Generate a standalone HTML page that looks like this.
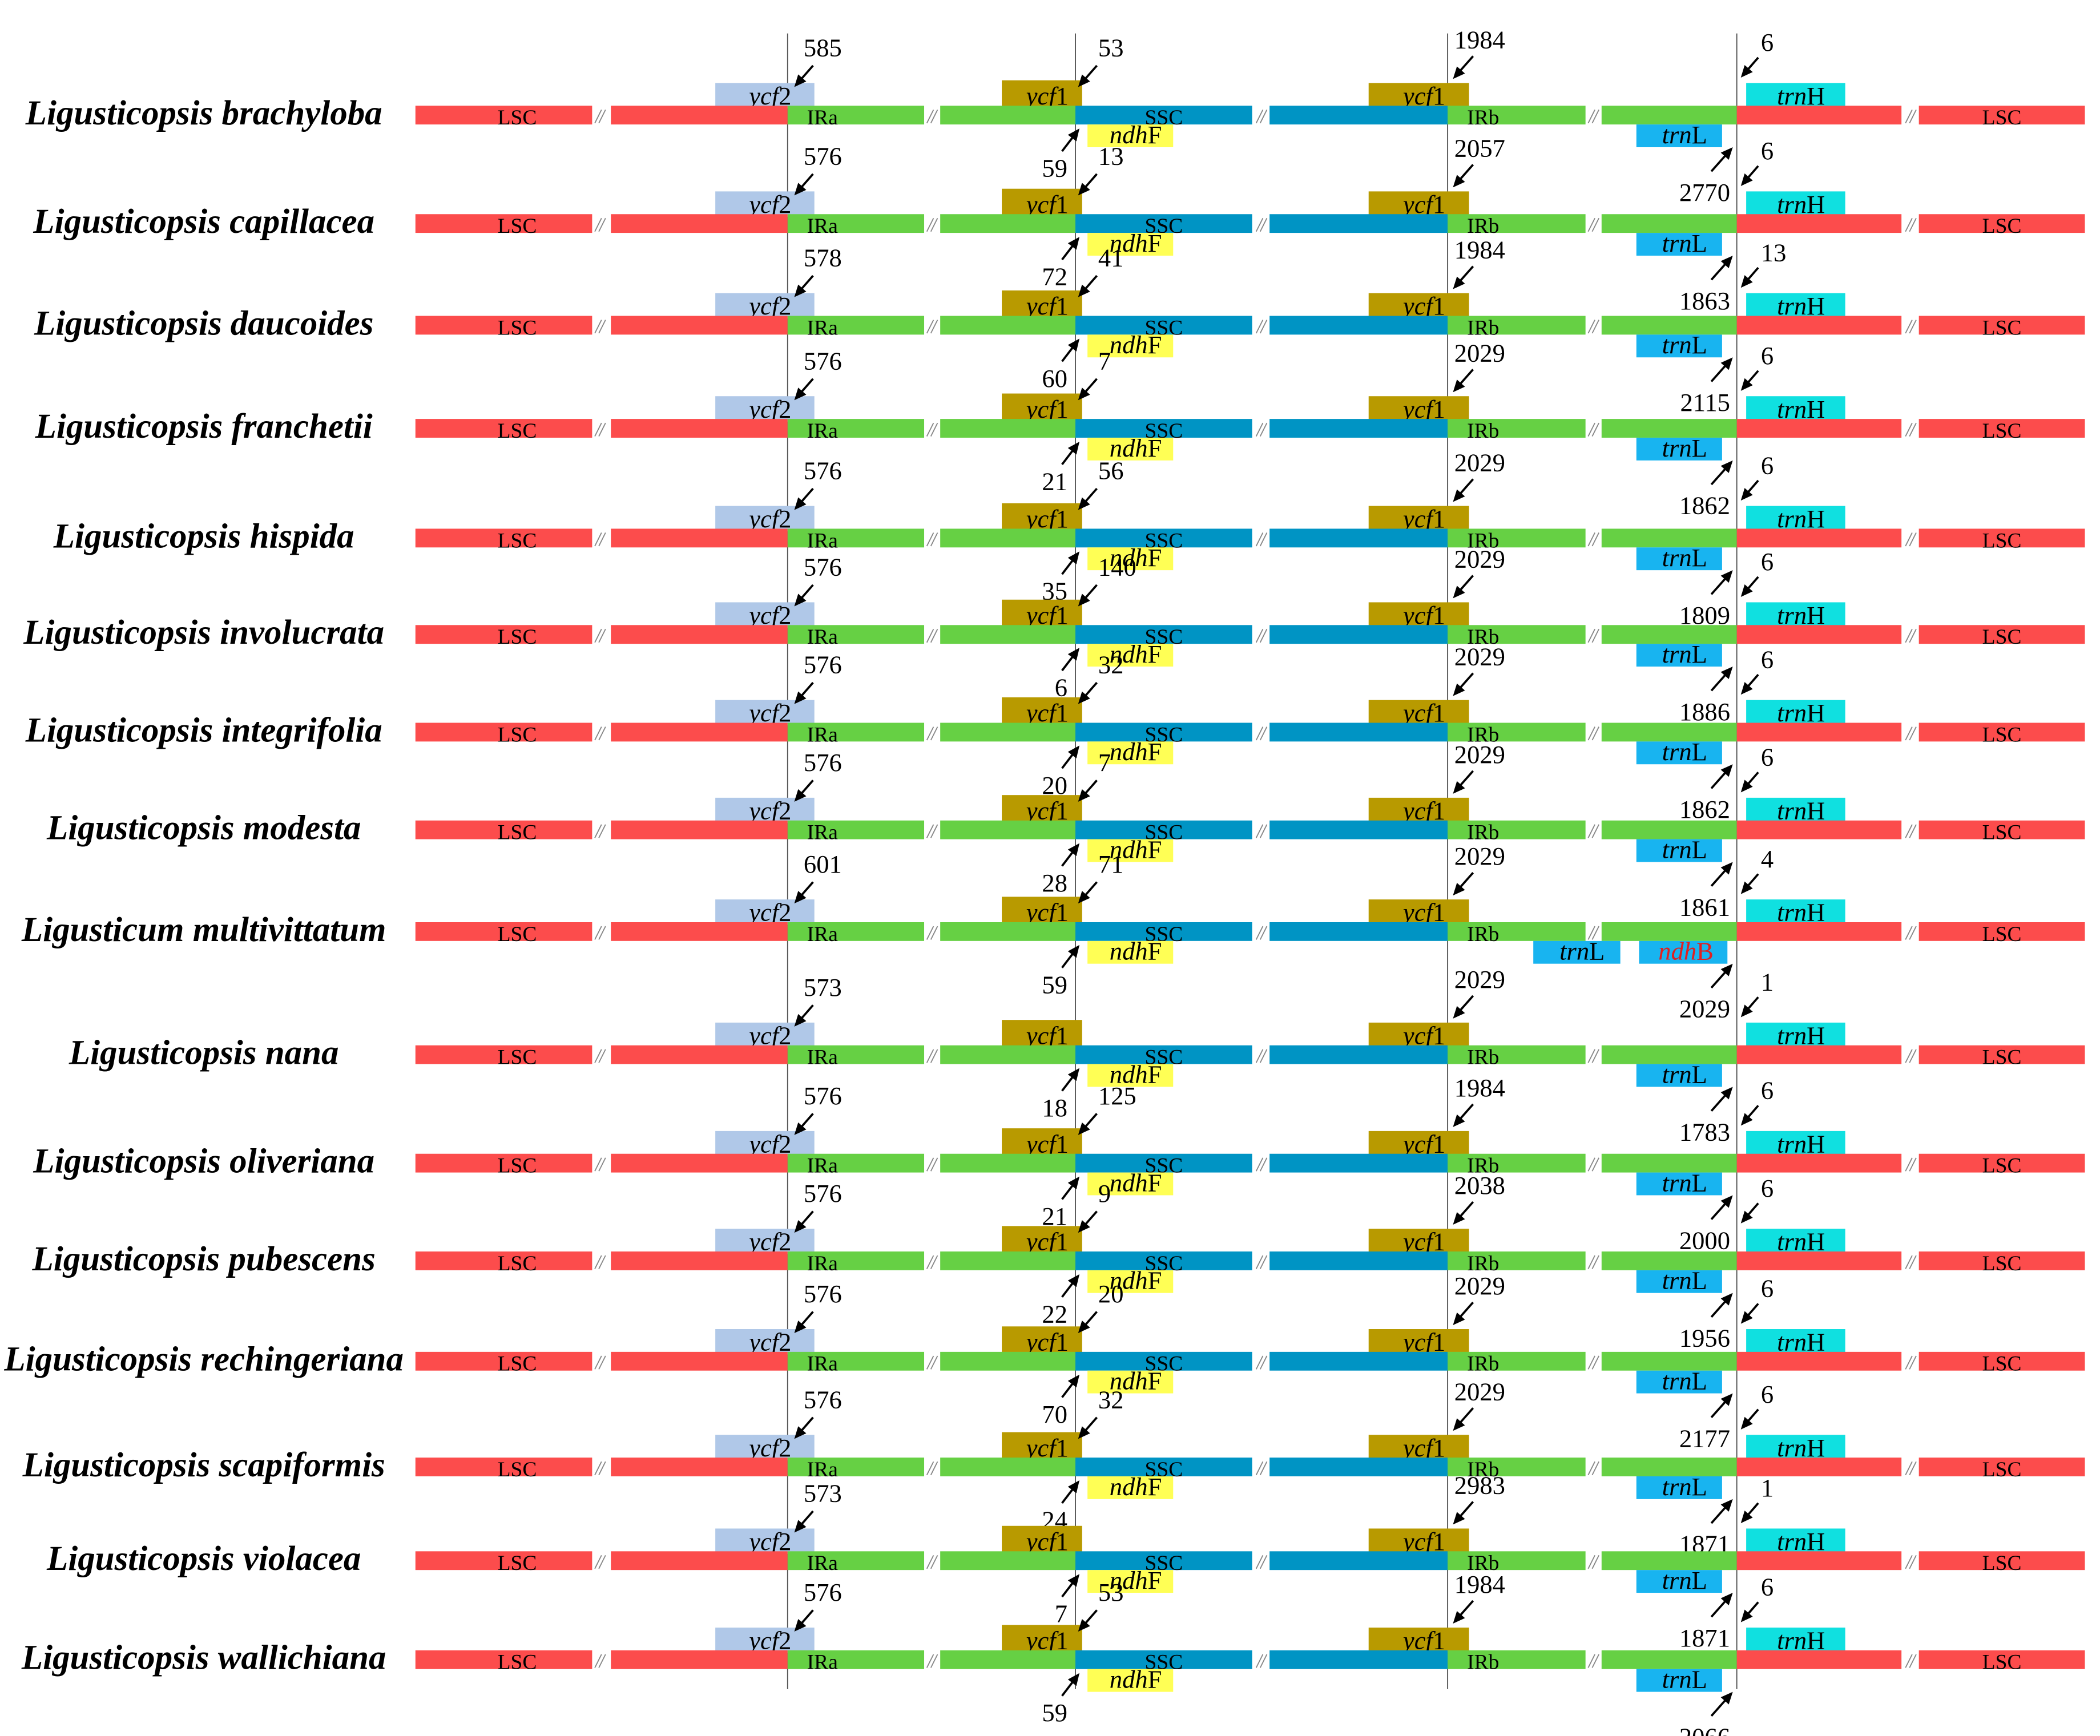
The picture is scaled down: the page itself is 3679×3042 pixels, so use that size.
<!DOCTYPE html>
<html><head><meta charset="utf-8"><style>
html,body{margin:0;padding:0;background:#fff}
svg{display:block}
text{font-family:"Liberation Serif",serif}
</style></head><body>
<svg id="chart" width="3679" height="3042" viewBox="0 0 1568 1297" xmlns="http://www.w3.org/2000/svg">
<g id="vlines"></g><g id="rows"></g>
</svg>
<script>
const species=["Ligusticopsis brachyloba","Ligusticopsis capillacea","Ligusticopsis daucoides","Ligusticopsis franchetii","Ligusticopsis hispida","Ligusticopsis involucrata","Ligusticopsis integrifolia","Ligusticopsis modesta","Ligusticum multivittatum","Ligusticopsis nana","Ligusticopsis oliveriana","Ligusticopsis pubescens","Ligusticopsis rechingeriana","Ligusticopsis scapiformis","Ligusticopsis violacea","Ligusticopsis wallichiana"];
const rowY=[86,167,243,320,402,474,547,620,696,788,869,942,1017,1096,1166,1240];
const ycf2Num=["585","576","578","576","576","576","576","576","601","573","576","576","576","576","573","576"];
const ycf1Num=["53","13","41","7","56","140","32","7","71","","125","9","20","32","","53"];
const ndhFNum=["59","72","60","21","35","6","20","28","59","18","21","22","70","24","7","59"];
const irbNum=["1984","2057","1984","2029","2029","2029","2029","2029","2029","2029","1984","2038","2029","2029","2983","1984"];
const trnLNum=["2770","1863","2115","1862","1809","1886","1862","1861","2029","1783","2000","1956","2177","1871","1871","2066"];
const trnHNum=["6","6","13","6","6","6","6","6","4","1","6","6","6","6","1","6"];
const ns="http://www.w3.org/2000/svg";
const C={red:"#fc4c4c",green:"#66d044",blue:"#0094c4",ycf2:"#b0c8e8",ycf1:"#b89a00",ndhF:"#ffff55",trnL:"#18b4f0",trnH:"#10e0e0"};
function mk(tag,attrs,parent){const e=document.createElementNS(ns,tag);for(const k in attrs)e.setAttribute(k,attrs[k]);parent.appendChild(e);return e;}
const vl=document.getElementById('vlines');
[588,803,1081,1297].forEach(x=>{
 const l=mk('line',{x1:x,y1:25,x2:x,y2:1262,stroke:"#555","stroke-width":0.8},vl);
 
 
});
const rowsG=document.getElementById('rows');
function arrow(g,x1,y1,x2,y2){
 const dx=x2-x1,dy=y2-y1,L=Math.hypot(dx,dy),ux=dx/L,uy=dy/L;
 mk('line',{x1:x1,y1:y1,x2:x2-ux*7,y2:y2-uy*7,stroke:"#000","stroke-width":1.6},g);
 const bx=x2-ux*9,by=y2-uy*9;
 mk('polygon',{points:`${x2},${y2} ${bx-uy*4},${by+ux*4} ${bx+uy*4},${by-ux*4}`,fill:"#000"},g);
}
function txt(g,x,y,s,opt){const t=mk('text',Object.assign({x:x,y:y,"font-size":19,fill:"#000"},opt||{}),g);t.textContent=s;return t;}
function gene(g,x,y,w,h,col,ital,rest){
 mk('rect',{x:x,y:y,width:w,height:h,fill:col},g);
 const t=mk('text',{x:x+w/2+4,y:y+h-3,"font-size":19,"text-anchor":"middle"},g);
 const a=document.createElementNS(ns,'tspan');a.setAttribute('font-style','italic');a.textContent=ital;t.appendChild(a);
 const b=document.createElementNS(ns,'tspan');b.textContent=rest;t.appendChild(b);
}
species.forEach((sp,i)=>{
 const y=rowY[i];
 const g=mk('g',{},rowsG);
 
 
 const lab=txt(g,152,y+7,sp,{"font-size":26,"font-weight":"bold","font-style":"italic","text-anchor":"middle"});
 
 
 const top=y-7;
 const segs=[[310,442,C.red,"LSC"],[456,588,C.red,""],[588,690,C.green,"IRa"],[702,803,C.green,""],[803,935,C.blue,"SSC"],[948,1081,C.blue,""],[1081,1184,C.green,"IRb"],[1196,1297,C.green,""],[1297,1420,C.red,""],[1433,1557,C.red,"LSC"]];
 gene(g,534,top-17,74,19,C.ycf2,"ycf","2");
 gene(g,748,top-19,60,21,C.ycf1,"ycf","1");
 gene(g,1022,top-17,75,19,C.ycf1,"ycf","1");
 gene(g,1304,top-17,74,19,C.trnH,"trn","H");
 segs.forEach(s=>{
  mk('rect',{x:s[0],y:top,width:s[1]-s[0],height:14,fill:s[2]},g);
  if(s[3])txt(g,(s[0]+s[1])/2+(s[3]==="LSC"&&s[0]<400?10:0)+(s[3]==="IRa"||s[3]==="IRb"?-25:0),top+14,s[3],{"font-size":16,"text-anchor":"middle"});
 });
 [444,692,938,1186,1423].forEach(px=>{
  mk('line',{x1:px,y1:y+6,x2:px+5,y2:y-4,stroke:"#888","stroke-width":0.8},g);
  mk('line',{x1:px+3,y1:y+6,x2:px+8,y2:y-4,stroke:"#888","stroke-width":0.8},g);
 });
 gene(g,812,top+14,64,17,C.ndhF,"ndh","F");
 if(i===8){
  gene(g,1145,top+14,65,17,C.trnL,"trn","L");
  mk('rect',{x:1224,y:top+14,width:66,height:17,fill:C.trnL},g);
  const t=txt(g,1259,top+28,"",{"text-anchor":"middle",fill:"#e02020"});
  const a=document.createElementNS(ns,'tspan');a.setAttribute('font-style','italic');a.textContent="ndh";t.appendChild(a);
  const b=document.createElementNS(ns,'tspan');b.textContent="B";t.appendChild(b);
 } else gene(g,1222,top+14,64,17,C.trnL,"trn","L");
 txt(g,600,y-44,ycf2Num[i]);arrow(g,607,y-37,593,y-21);
 if(ycf1Num[i]){txt(g,820,y-44,ycf1Num[i]);arrow(g,819,y-37,805,y-21);}
 txt(g,797,y+46,ndhFNum[i],{"text-anchor":"end"});arrow(g,793,y+27,806,y+10);
 txt(g,1086,y-50,irbNum[i]);arrow(g,1100,y-44,1085,y-27);
 txt(g,1292,y+64,trnLNum[i],{"text-anchor":"end"});arrow(g,1278,y+42,1294,y+24);
 txt(g,1315,y-48,trnHNum[i]);arrow(g,1313,y-43,1300,y-28);
});
</script>
</body></html>
